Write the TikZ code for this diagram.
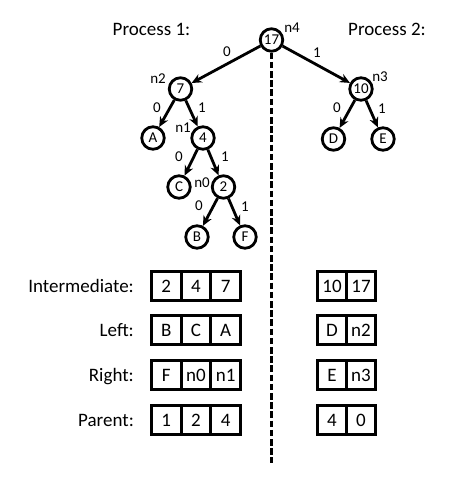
\documentclass[tikz,border=0pt]{standalone}
\usepackage{fontspec}
\setmainfont{Carlito}
\usepackage{tikz}
\usetikzlibrary{arrows.meta, positioning}

\begin{document}
\begin{tikzpicture}[x=1pt, y=1pt]
	\tikzstyle{taskc}=[circle, draw=black, line width=2.8pt, minimum size=22.5pt, inner sep=0pt, font=\fontsize{15}{15}\selectfont]
	\tikzstyle{edg}=[line width=2.8pt, -{Stealth[length=10pt, width=9pt]}]
	\tikzstyle{lbl}=[inner sep=0pt, font=\fontsize{15}{15}\selectfont]
	\tikzstyle{cell}=[rectangle, draw=black, line width=3.2pt, minimum width=29.7pt, minimum height=29.3pt, inner sep=0pt, text height=12.5pt, text depth=0pt, font=\fontsize{19}{19}\selectfont]
	\tikzstyle{rowname}=[anchor=base east, inner sep=0pt, font=\fontsize{19}{19}\selectfont]
	\tikzstyle{title}=[anchor=base, inner sep=0pt, font=\fontsize{19}{19}\selectfont]

	\useasboundingbox (0,0) rectangle (466,-480);

	\node (p1) at (151.5,-35) [title] {Process 1:};
	\node (p2) at (387,-35) [title] {Process 2:};

	% tree
	\node (t17) at (271.5,-40) [taskc] {17};
	\node (t7) at (180.5,-89) [taskc] {7};
	\node (t10) at (361,-89) [taskc] {10};
	\node (tA) at (153,-138) [taskc] {A};
	\node (t4) at (203,-138) [taskc] {4};
	\node (tD) at (333.5,-139) [taskc] {D};
	\node (tE) at (383,-139) [taskc] {E};
	\node (tC) at (179,-187) [taskc] {C};
	\node (t2) at (223.5,-187) [taskc] {2};
	\node (tB) at (197,-237) [taskc] {B};
	\node (tF) at (245,-237) [taskc] {F};

	\node (n4) at (292,-28) [lbl] {n4};
	\node (n2) at (158,-79) [lbl] {n2};
	\node (n3) at (380,-77) [lbl] {n3};
	\node (n1) at (183,-128) [lbl] {n1};
	\node (n0) at (202,-183) [lbl] {n0};

	\draw[edg] (t17) -- (t7);
	\draw[edg] (t17) -- (t10);
	\draw[edg] (t7) -- (tA);
	\draw[edg] (t7) -- (t4);
	\draw[edg] (t4) -- (tC);
	\draw[edg] (t4) -- (t2);
	\draw[edg] (t2) -- (tB);
	\draw[edg] (t2) -- (tF);
	\draw[edg] (t10) -- (tD);
	\draw[edg] (t10) -- (tE);

	\node (e0a) at (227,-52) [lbl] {0};
	\node (e1a) at (317,-53) [lbl] {1};
	\node (e0b) at (157,-108) [lbl] {0};
	\node (e1b) at (202,-108) [lbl] {1};
	\node (e0c) at (179,-157) [lbl] {0};
	\node (e1c) at (225,-157) [lbl] {1};
	\node (e0d) at (199,-206) [lbl] {0};
	\node (e1d) at (245,-207) [lbl] {1};
	\node (e0e) at (337,-108) [lbl] {0};
	\node (e1e) at (382,-109) [lbl] {1};

	% divider between the processes
	\coordinate (dend) at (271.5,-463);
	\draw[line width=2.5pt, dash pattern=on 6.5pt off 2.7pt] (t17) -- (dend);

	% arrays
	\node (rI) at (134,-292.5) [rowname] {Intermediate:};
	\node (rL) at (134,-336.5) [rowname] {Left:};
	\node (rR) at (134,-381.5) [rowname] {Right:};
	\node (rP) at (134,-426.5) [rowname] {Parent:};

	\node (i1) at (166.3,-286) [cell] {2};
	\node (i2) at (196,-286) [cell] {4};
	\node (i3) at (225.7,-286) [cell] {7};
	\node (i4) at (332,-286) [cell] {10};
	\node (i5) at (361,-286) [cell] {17};

	\node (l1) at (166.3,-330) [cell] {B};
	\node (l2) at (196,-330) [cell] {C};
	\node (l3) at (225.7,-330) [cell] {A};
	\node (l4) at (332,-330) [cell] {D};
	\node (l5) at (361,-330) [cell] {n2};

	\node (r1) at (166.3,-375) [cell] {F};
	\node (r2) at (196,-375) [cell] {n0};
	\node (r3) at (225.7,-375) [cell] {n1};
	\node (r4) at (332,-375) [cell] {E};
	\node (r5) at (361,-375) [cell] {n3};

	\node (q1) at (166.3,-420) [cell] {1};
	\node (q2) at (196,-420) [cell] {2};
	\node (q3) at (225.7,-420) [cell] {4};
	\node (q4) at (332,-420) [cell] {4};
	\node (q5) at (361,-420) [cell] {0};
\end{tikzpicture}
\end{document}
